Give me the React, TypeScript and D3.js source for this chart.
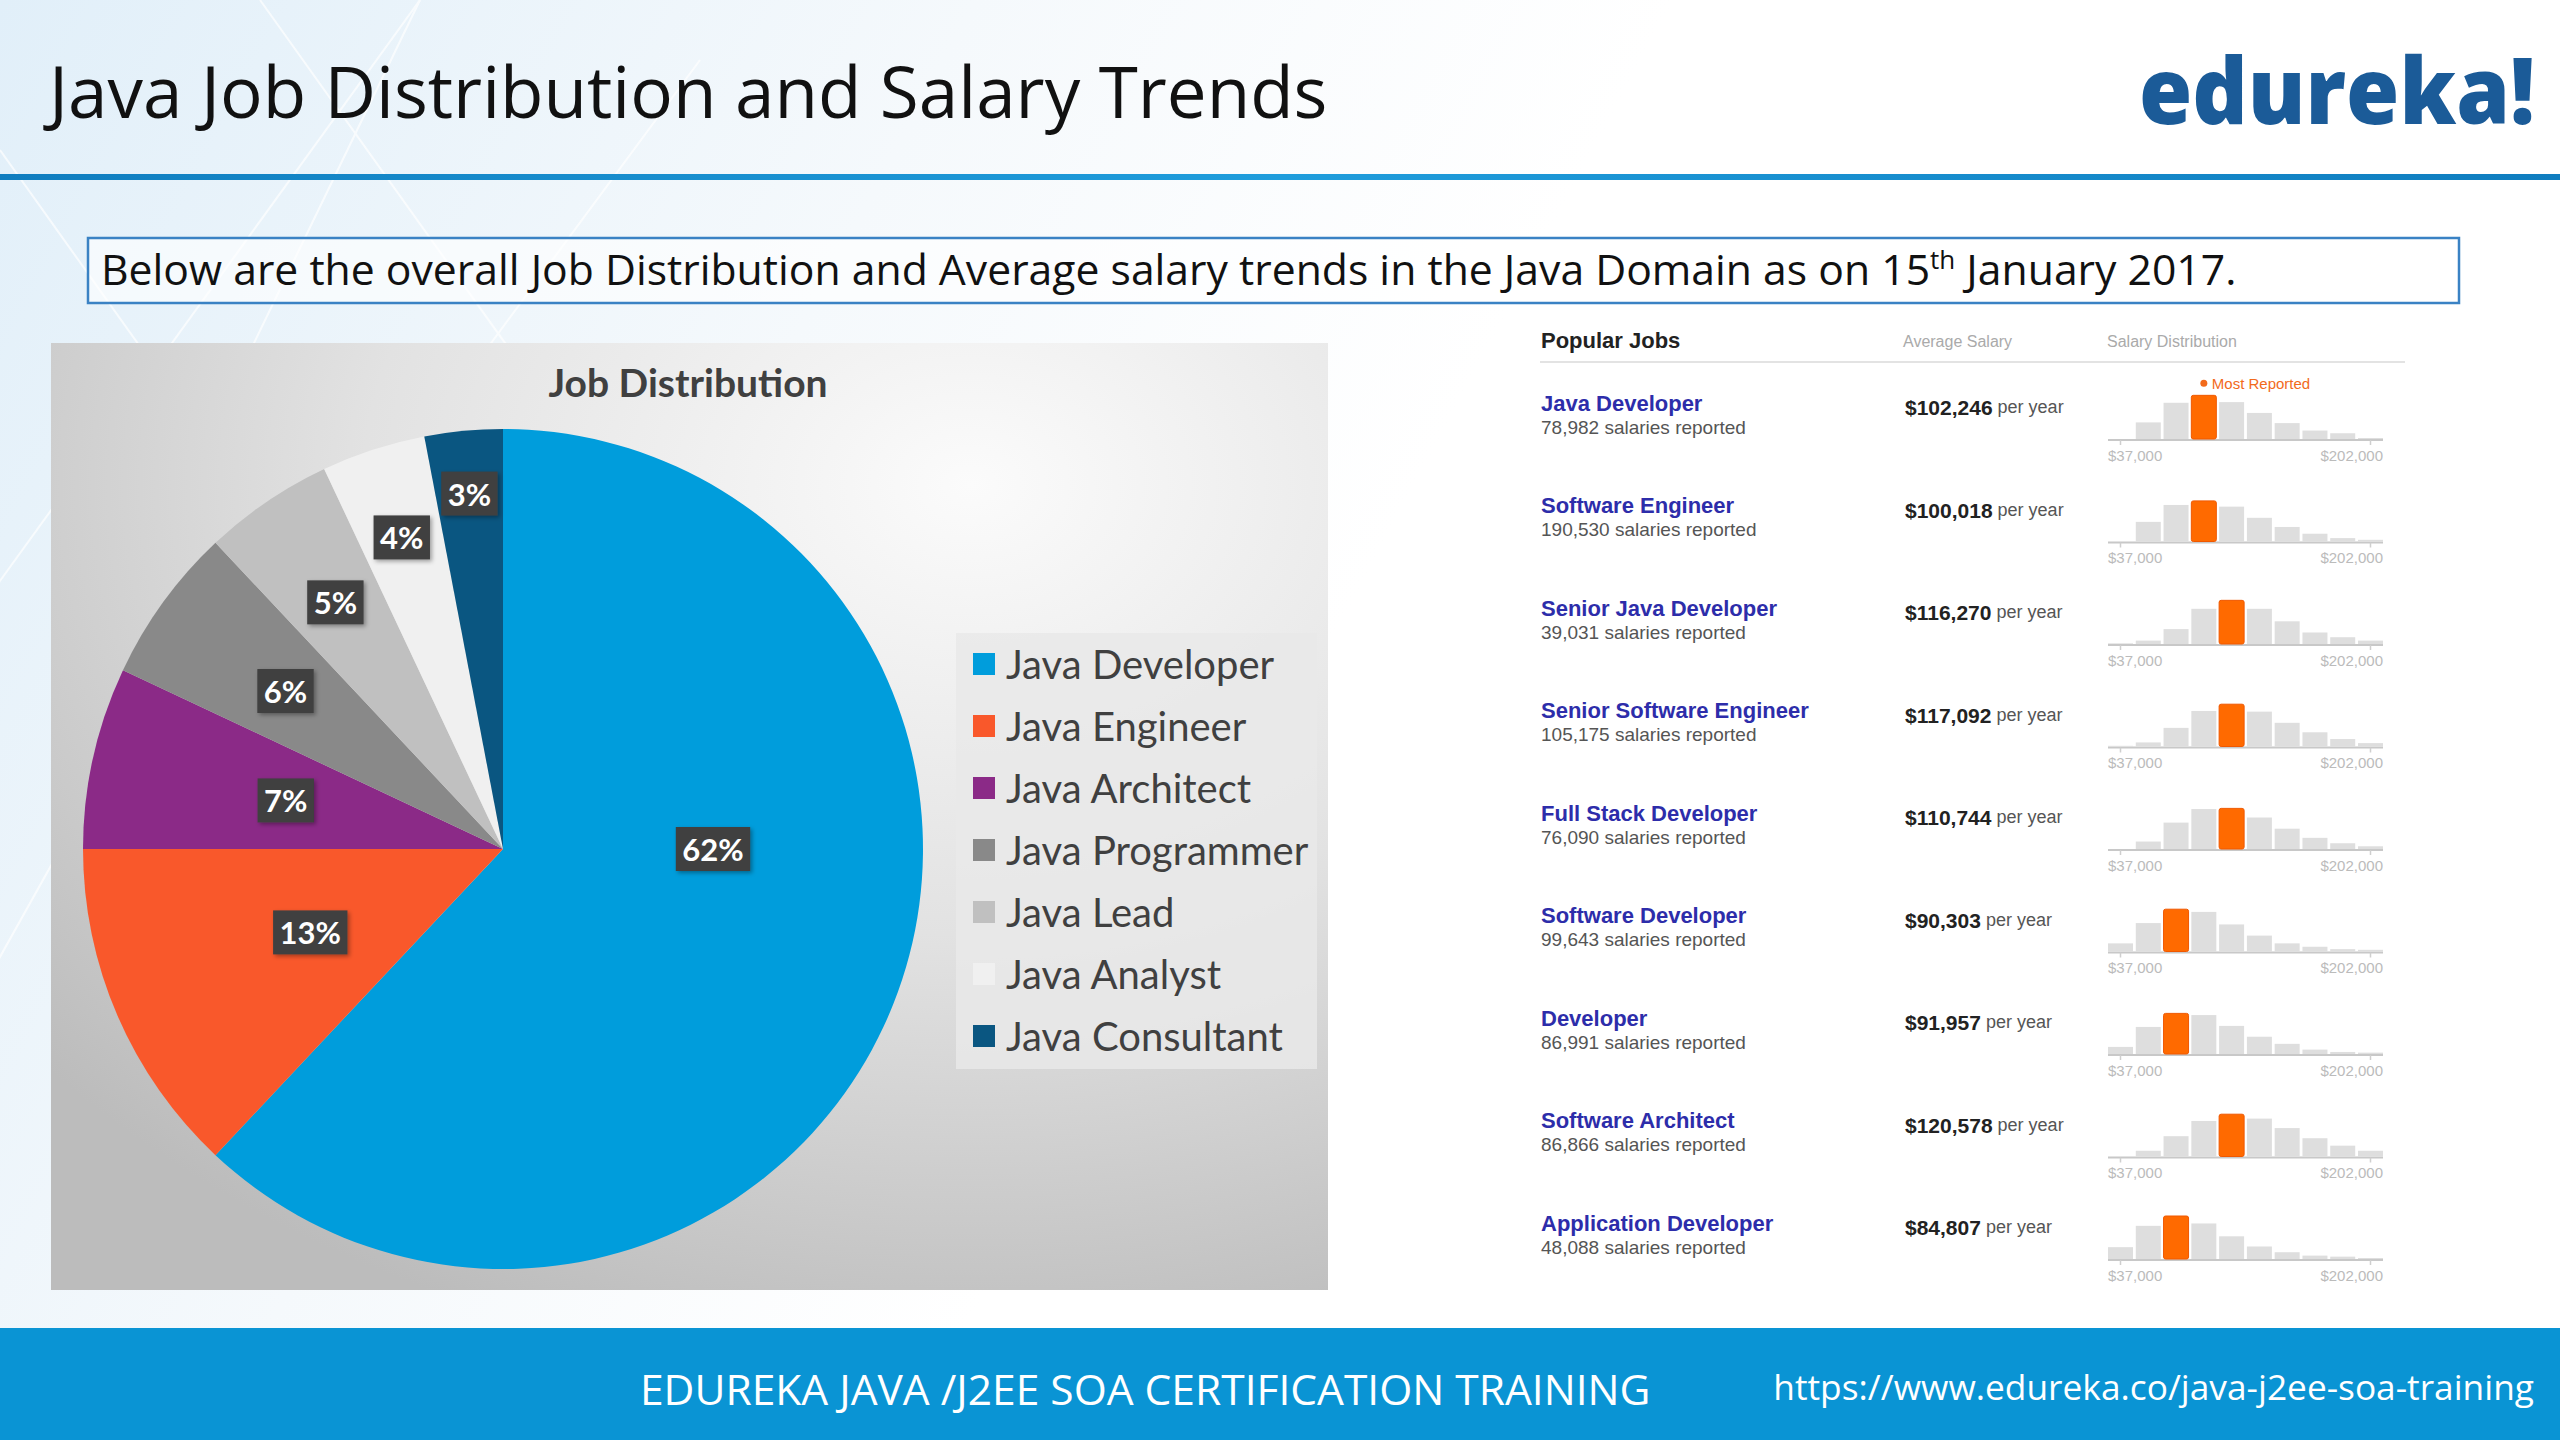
import React, { useEffect, useRef } from 'react';
import * as d3 from 'd3';

// Pie: job distribution
const jobCategories = ['Java Developer', 'Java Engineer', 'Java Architect', 'Java Programmer', 'Java Lead', 'Java Analyst', 'Java Consultant'];
const jobShares = [62, 13, 7, 6, 5, 4, 3];
const jobColors = ['#009ddc', '#f9582b', '#8b2a87', '#898989', '#c0c0c0', '#f0f0f0', '#0a5681'];

// Table: popular jobs and salary trends
const popularJobs = ['Java Developer', 'Software Engineer', 'Senior Java Developer', 'Senior Software Engineer', 'Full Stack Developer', 'Software Developer', 'Developer', 'Software Architect', 'Application Developer'];
const salariesReported = [78982, 190530, 39031, 105175, 76090, 99643, 86991, 86866, 48088];
const averageSalaries = [102246, 100018, 116270, 117092, 110744, 90303, 91957, 120578, 84807];
// relative bar heights of the 10 salary bins ($37,000 .. $202,000)
const salaryBins = [
    [0, 49, 107, 129, 109, 77, 47, 25, 17, 3],
    [0, 58, 108, 120, 103, 70, 43, 23, 10, 5],
    [2, 10, 44, 104, 129, 104, 67, 34, 20, 10],
    [2, 12, 55, 105, 125, 103, 70, 42, 22, 10],
    [0, 22, 78, 118, 120, 93, 60, 33, 17, 8],
    [24, 84, 125, 117, 80, 47, 24, 14, 7, 5],
    [21, 80, 120, 115, 83, 51, 30, 13, 6, 4],
    [0, 17, 60, 105, 125, 112, 84, 54, 32, 17],
    [35, 98, 127, 105, 67, 37, 20, 10, 7, 3],
];
const salaryAxisLabels = ['$37,000', '$202,000'];

const W = 2560;
const H = 1440;

export default function App() {
    const svgRef = useRef<SVGSVGElement>(null);

    useEffect(() => {
        document.body.style.margin = '0';
        if (!svgRef.current) return;
        const svg = d3.select(svgRef.current);
        svg.selectAll('*').remove();

        const defs = svg.append('defs');
        const bg = defs.append('linearGradient').attr('id', 'slideBg').attr('x1', 0).attr('x2', 1).attr('y1', 0).attr('y2', 0.3);
        bg.append('stop').attr('offset', 0).attr('stop-color', '#e1eff9');
        bg.append('stop').attr('offset', 0.35).attr('stop-color', '#f5f9fc');
        bg.append('stop').attr('offset', 0.6).attr('stop-color', '#ffffff');

        const hl = defs.append('linearGradient').attr('id', 'headLine');
        hl.append('stop').attr('offset', 0).attr('stop-color', '#0f7dbf');
        hl.append('stop').attr('offset', 0.5).attr('stop-color', '#1f9ddc');
        hl.append('stop').attr('offset', 1).attr('stop-color', '#0f7dbf');

        const cb = defs.append('radialGradient').attr('id', 'chartBg')
            .attr('cx', 0.72).attr('cy', 0.15).attr('r', 0.95);
        cb.append('stop').attr('offset', 0).attr('stop-color', '#fbfbfb');
        cb.append('stop').attr('offset', 0.5).attr('stop-color', '#e2e2e2');
        cb.append('stop').attr('offset', 1).attr('stop-color', '#bcbcbc');

        defs.append('filter').attr('id', 'shadow').attr('x', -0.3).attr('y', -0.3).attr('width', 1.6).attr('height', 1.6)
            .append('feDropShadow').attr('dx', 2).attr('dy', 2).attr('stdDeviation', 2)
            .attr('flood-color', '#000').attr('flood-opacity', 0.35);

        // slide background
        svg.append('rect').attr('width', W).attr('height', H).attr('fill', 'url(#slideBg)');
        const deco = svg.append('g').attr('stroke', '#ffffff').attr('stroke-width', 2).attr('opacity', 0.7).attr('fill', 'none');
        [[-50, 650, 420, 0], [80, 900, 700, 60], [0, 150, 520, 880], [260, 0, 760, 700], [-80, 1100, 300, 420], [420, 0, 120, 620]]
            .forEach(([x1, y1, x2, y2]) => deco.append('line').attr('x1', x1).attr('y1', y1).attr('x2', x2).attr('y2', y2));

        // header
        svg.append('text').attr('x', 49).attr('y', 118)
            .attr('font-family', '"Open Sans", sans-serif').attr('font-size', 71).attr('fill', '#111')
            .text('Java Job Distribution and Salary Trends');
        svg.append('text').attr('x', 2139).attr('y', 124)
            .attr('font-family', '"Open Sans", sans-serif').attr('font-weight', 800).attr('font-size', 92)
            .attr('fill', '#1b5b98').attr('textLength', 396).attr('lengthAdjust', 'spacingAndGlyphs')
            .text('edureka!');
        svg.append('rect').attr('x', 0).attr('y', 174).attr('width', W).attr('height', 6).attr('fill', 'url(#headLine)');

        // subtitle box
        svg.append('rect').attr('x', 88).attr('y', 238).attr('width', 2371).attr('height', 65)
            .attr('fill', '#ffffff').attr('fill-opacity', 0.6).attr('stroke', '#3a82c4').attr('stroke-width', 2.5);
        const sub = svg.append('text').attr('x', 101).attr('y', 285)
            .attr('font-family', '"Open Sans", sans-serif').attr('font-size', 42.7).attr('fill', '#111');
        sub.append('tspan').text('Below are the overall Job Distribution and Average salary trends in the Java Domain as on 15');
        sub.append('tspan').attr('dy', -16).attr('font-size', 26).text('th');
        sub.append('tspan').attr('dy', 16).text(' January 2017.');

        // ---- Pie chart ----
        svg.append('rect').attr('x', 51).attr('y', 343).attr('width', 1277).attr('height', 947).attr('fill', 'url(#chartBg)');
        svg.append('text').attr('x', 688).attr('y', 397).attr('text-anchor', 'middle')
            .attr('font-family', 'Lato, sans-serif').attr('font-weight', 700).attr('font-size', 39).attr('fill', '#404040')
            .text('Job Distribution');

        const cx = 503, cy = 849, R = 420;
        const total = d3.sum(jobShares);
        const arcs = d3.pie<number>().sort(null).value(d => d)(jobShares);
        const arc = d3.arc<d3.PieArcDatum<number>>().innerRadius(0).outerRadius(R);
        const pieG = svg.append('g').attr('transform', `translate(${cx},${cy})`);
        pieG.selectAll('path').data(arcs).join('path')
            .attr('d', arc)
            .attr('fill', (d, i) => jobColors[i]);

        arcs.forEach(d => {
            const p = d.value / total;
            // big slice: label sits in the middle of its right-hand part
            const end = d.endAngle - d.startAngle > Math.PI ? Math.min(d.endAngle, Math.PI) : d.endAngle;
            const mid = (d.startAngle + end) / 2;
            // thin slices push their labels outwards
            const frac = p >= 0.1 ? 0.5 : p >= 0.065 ? 0.53 : 0.5 + (0.08 - p) * 7;
            const lx = Math.sin(mid) * R * frac;
            const ly = -Math.cos(mid) * R * frac;
            const g = pieG.append('g').attr('transform', `translate(${lx},${ly})`);
            const rect = g.append('rect').attr('fill', '#404040').attr('filter', 'url(#shadow)');
            const t = g.append('text').attr('text-anchor', 'middle').attr('dominant-baseline', 'central')
                .attr('font-family', 'Lato, sans-serif').attr('font-weight', 700).attr('font-size', 31).attr('fill', '#fff')
                .text(`${Math.round(p * 100)}%`);
            const tw = (t.node() as SVGTextElement).getComputedTextLength();
            rect.attr('x', -(tw + 13) / 2).attr('y', -22).attr('width', tw + 13).attr('height', 44);
        });

        // legend
        svg.append('rect').attr('x', 956).attr('y', 633).attr('width', 361).attr('height', 436)
            .attr('fill', '#e9e9e9').attr('fill-opacity', 0.85);
        const leg = svg.append('g').selectAll('g').data(jobCategories).join('g')
            .attr('transform', (d, i) => `translate(973,${664 + i * 62})`);
        leg.append('rect').attr('y', -11).attr('width', 22).attr('height', 22).attr('fill', (d, i) => jobColors[i]);
        leg.append('text').attr('x', 33).attr('dominant-baseline', 'central')
            .attr('font-family', 'Lato, sans-serif').attr('font-size', 40).attr('fill', '#404040')
            .text(d => d);

        // ---- Salary table ----
        const font = '"Liberation Sans", Arial, sans-serif';
        const tableX = 1541, salaryX = 1905, histX0 = 2108, histX1 = 2383;
        const rowY0 = 403, rowStep = 102.5;

        const head = svg.append('g').attr('font-family', font);
        head.append('text').attr('x', tableX).attr('y', 340).attr('dominant-baseline', 'central')
            .attr('font-weight', 700).attr('font-size', 22).attr('fill', '#222').text('Popular Jobs');
        head.append('text').attr('x', 1903).attr('y', 341).attr('dominant-baseline', 'central')
            .attr('font-size', 16).attr('fill', '#aaa').text('Average Salary');
        head.append('text').attr('x', 2107).attr('y', 341).attr('dominant-baseline', 'central')
            .attr('font-size', 16).attr('fill', '#aaa').text('Salary Distribution');
        head.append('line').attr('x1', 1540).attr('x2', 2405).attr('y1', 362).attr('y2', 362)
            .attr('stroke', '#e3e3e3').attr('stroke-width', 2);

        const x = d3.scaleBand<number>().domain(d3.range(10)).range([histX0, histX1]).paddingInner(0.1);
        const y = d3.scaleLinear().domain([0, 130]).range([0, 44]);
        const fmtCount = d3.format(',');
        const fmtSalary = d3.format('$,');

        popularJobs.forEach((job, i) => {
            const ry = rowY0 + i * rowStep;
            const g = svg.append('g').attr('font-family', font);
            g.append('text').attr('x', tableX).attr('y', ry).attr('dominant-baseline', 'central')
                .attr('font-weight', 700).attr('font-size', 22).attr('fill', '#2d2daa').text(job);
            g.append('text').attr('x', tableX).attr('y', ry + 24).attr('dominant-baseline', 'central')
                .attr('font-size', 19).attr('fill', '#555').text(`${fmtCount(salariesReported[i])} salaries reported`);
            const st = g.append('text').attr('x', salaryX).attr('y', ry + 4).attr('dominant-baseline', 'central');
            st.append('tspan').attr('font-weight', 700).attr('font-size', 21).attr('fill', '#222').text(fmtSalary(averageSalaries[i]));
            st.append('tspan').attr('font-size', 18).attr('fill', '#555').text(' per year');

            const base = ry + 36;
            const bins = salaryBins[i];
            const peak = d3.maxIndex(bins);
            g.append('line').attr('x1', histX0).attr('x2', histX1).attr('y1', base + 1).attr('y2', base + 1)
                .attr('stroke', '#c8c8c8').attr('stroke-width', 2);
            g.selectAll('rect.bin').data(bins).join('rect').attr('class', 'bin')
                .attr('x', (d, j) => x(j)!)
                .attr('y', d => base - y(d))
                .attr('width', x.bandwidth())
                .attr('height', d => y(d))
                .attr('rx', (d, j) => (j === peak ? 2 : 0))
                .attr('fill', (d, j) => (j === peak ? '#ff6a00' : '#dedede'))
                .attr('stroke', (d, j) => (j === peak ? '#f05800' : 'none'));
            [0, 9].forEach(j => {
                const tx = x(j)! + x.bandwidth() / 2;
                g.append('line').attr('x1', tx).attr('x2', tx).attr('y1', base + 1).attr('y2', base + 6)
                    .attr('stroke', '#cfcfcf').attr('stroke-width', 1.5);
            });
            g.append('text').attr('x', histX0).attr('y', base + 16).attr('dominant-baseline', 'central')
                .attr('font-size', 15).attr('fill', '#bbb').text(salaryAxisLabels[0]);
            g.append('text').attr('x', histX1).attr('y', base + 16).attr('dominant-baseline', 'central')
                .attr('text-anchor', 'end').attr('font-size', 15).attr('fill', '#bbb').text(salaryAxisLabels[1]);

            if (i === 0) {
                const px = x(peak)! + x.bandwidth() / 2;
                const py = base - y(bins[peak]) - 12;
                g.append('circle').attr('cx', px).attr('cy', py).attr('r', 3.5).attr('fill', '#f26a1b');
                g.append('text').attr('x', px + 8).attr('y', py).attr('dominant-baseline', 'central')
                    .attr('font-size', 15).attr('fill', '#f26a1b').text('Most Reported');
            }
        });

        // footer
        svg.append('rect').attr('x', 0).attr('y', 1328).attr('width', W).attr('height', H - 1328).attr('fill', '#0a94d4');
        svg.append('text').attr('x', 640).attr('y', 1405)
            .attr('font-family', '"Open Sans", sans-serif').attr('font-size', 42.5).attr('fill', '#fff')
            .text('EDUREKA JAVA /J2EE SOA CERTIFICATION TRAINING');
        svg.append('text').attr('x', 2534).attr('y', 1400).attr('text-anchor', 'end')
            .attr('font-family', '"Open Sans", sans-serif').attr('font-size', 35.3).attr('fill', '#fff')
            .text('https://www.edureka.co/java-j2ee-soa-training');
    }, []);

    return <svg ref={svgRef} width={W} height={H} style={{ display: 'block' }} />;
}
